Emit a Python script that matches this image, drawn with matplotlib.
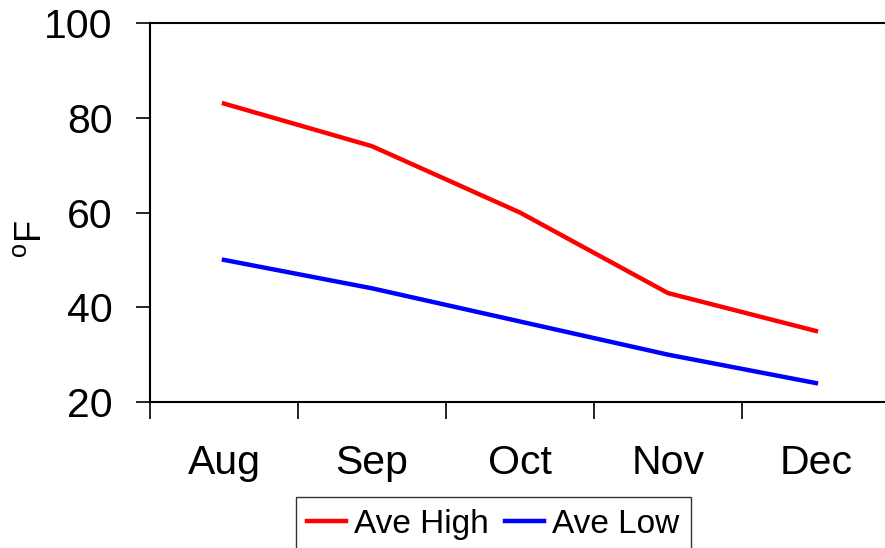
import numpy as np
import matplotlib.pyplot as plt
from matplotlib.ticker import FixedLocator

plt.rcParams['font.family'] = ['Liberation Sans', 'DejaVu Sans']
plt.rcParams['mathtext.fontset'] = 'custom'
plt.rcParams['mathtext.rm'] = 'Liberation Sans'

months = ['Aug', 'Sep', 'Oct', 'Nov', 'Dec']
ave_high = [83, 74, 60, 43, 35]
ave_low = [50, 44, 37, 30, 24]

fig = plt.figure(figsize=(8.85, 5.48), dpi=100)
ax = fig.add_axes([0.1695, 0.2664, 0.836, 0.6916])

x = np.arange(len(months))
ax.plot(x, ave_high, color='#ff0000', lw=3.2, label='Ave High')
ax.plot(x, ave_low, color='#0000ff', lw=3.2, label='Ave Low')

ax.set_xlim(-0.5, len(months) - 0.5)
ax.set_ylim(20, 100)
ax.set_yticks([20, 40, 60, 80, 100])
ax.set_xticks(x)
ax.set_xticklabels(months)
ax.xaxis.set_minor_locator(FixedLocator(np.arange(-0.5, len(months), 1.0)))

ax.tick_params(axis='x', which='major', length=0, pad=30, labelsize=29.5)
ax.tick_params(axis='x', which='minor', length=12, width=1.2, direction='out')
ax.tick_params(axis='y', length=10, width=1.2, direction='out', pad=17, labelsize=29.5)

for s in ['left', 'bottom', 'top']:
    ax.spines[s].set_linewidth(1.5)
ax.spines['right'].set_visible(False)

ax.set_ylabel(r'$^{\mathrm{o}}$F', fontsize=26)
ax.yaxis.set_label_coords(-0.137, 0.43)

leg = fig.legend(loc='upper left', bbox_to_anchor=(0.334, 0.093),
                 bbox_transform=fig.transFigure, ncol=2, fontsize=24,
                 frameon=True, fancybox=False, borderaxespad=0,
                 handlelength=1.15, handletextpad=0.25, columnspacing=0.5,
                 borderpad=0.35)
leg.get_frame().set_edgecolor('black')
leg.get_frame().set_linewidth(1.0)

fig.savefig('out.png', dpi=100)
